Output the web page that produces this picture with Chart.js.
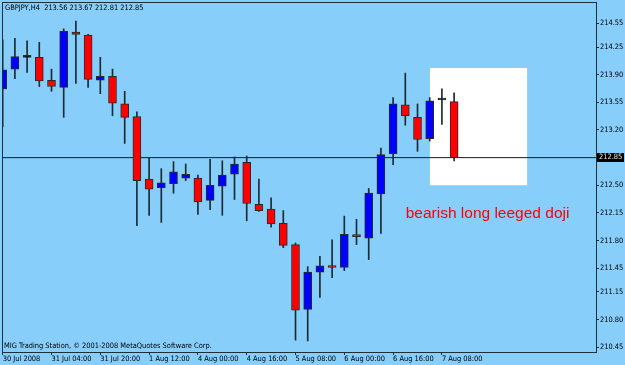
<!DOCTYPE html>
<html>
<head>
<meta charset="utf-8">
<script src="https://cdn.jsdelivr.net/npm/chart.js@4/dist/chart.umd.min.js"></script>
<style>
  html, body { margin: 0; padding: 0; background: #87cefa; }
  canvas { display: block; }
</style>
</head>
<body>
<canvas id="chart" width="625" height="365"></canvas>
<script>
// GBPJPY H4 candles (index = bar number)
const symbolTitle = "GBPJPY,H4  213.56 213.67 212.81 212.85";
const footerText = "MIG Trading Station, \u00a9 2001-2008 MetaQuotes Software Corp.";
const noteText = "bearish long leeged doji";

const opens  = [213.72, 213.97, 214.12, 214.12, 213.83, 213.74, 214.44, 214.40, 213.83, 213.88,
                213.53, 213.37, 212.58, 212.47, 212.52, 212.59, 212.59, 212.31, 212.49, 212.64,
                212.79, 212.26, 212.20, 212.02, 211.75, 210.93, 211.40, 211.47, 211.46, 211.86,
                211.83, 212.39, 212.90, 213.52, 213.36, 213.09, 213.58, 213.56];
const highs  = [214.34, 214.36, 214.33, 214.31, 213.97, 214.48, 214.58, 214.41, 214.12, 213.97,
                213.69, 213.43, 212.85, 212.71, 212.80, 212.77, 212.63, 212.83, 212.81, 212.86,
                212.87, 212.58, 212.34, 212.18, 211.77, 211.47, 211.60, 211.81, 212.11, 212.07,
                212.46, 212.97, 213.61, 213.92, 213.53, 213.61, 213.72, 213.67];
const lows   = [213.24, 213.85, 213.93, 213.75, 213.69, 213.36, 213.79, 213.74, 213.66, 213.38,
                213.03, 211.99, 212.12, 212.03, 212.40, 212.56, 212.13, 212.19, 212.12, 212.32,
                212.05, 212.17, 211.97, 211.71, 210.54, 210.53, 211.08, 211.33, 211.42, 211.75,
                211.56, 211.89, 212.76, 213.26, 212.93, 213.06, 213.27, 212.81];
const closes = [213.96, 214.13, 214.12, 213.82, 213.75, 214.45, 214.41, 213.84, 213.88, 213.54,
                213.36, 212.56, 212.45, 212.53, 212.67, 212.64, 212.29, 212.50, 212.63, 212.77,
                212.27, 212.18, 212.01, 211.74, 210.92, 211.40, 211.48, 211.46, 211.88, 211.85,
                212.40, 212.89, 213.53, 213.38, 213.08, 213.57, 213.58, 212.85];

const timeLabels = ["30 Jul 2008", "31 Jul 04:00", "31 Jul 20:00", "1 Aug 12:00", "4 Aug 00:00",
                    "4 Aug 16:00", "5 Aug 08:00", "6 Aug 00:00", "6 Aug 16:00", "7 Aug 08:00"];
const timeTickBars = [0, 4, 8, 12, 16, 20, 24, 28, 32, 36];
const priceTicks = [214.55, 214.25, 213.90, 213.55, 213.20, 212.85, 212.50, 212.15,
                    211.80, 211.45, 211.15, 210.80, 210.45];
const lastPrice = 212.85;

// highlighted box and the note next to it
const boxBars = [35, 43];
const boxPrices = [212.50, 213.985];
const noteAt = [33.03, 212.09];

const BG = "#87cefa";
const SMALL_FONT = { family: "'DejaVu Sans Condensed', 'Liberation Sans Narrow', sans-serif", size: 7.4 };
const bars = opens.map((_, i) => i);

const bodyColour = bars.map((i) =>
  closes[i] > opens[i] ? "#0000ff" : closes[i] < opens[i] ? "#ff0000" : "#000000");

// no label overhang padding, the frame sits right at the canvas edge
const noOverhang = (s) => { s.paddingTop = 0; s.paddingBottom = 0; s.paddingLeft = 0; s.paddingRight = 0; };

const mt4Plugin = {
  id: "mt4",
  beforeDraw(chart) {
    const c = chart.ctx;
    c.save();
    c.fillStyle = BG;
    c.fillRect(0, 0, chart.width, chart.height);
    c.restore();
  },
  afterDraw(chart) {
    const c = chart.ctx;
    const a = chart.chartArea;
    const x = chart.scales.x, y = chart.scales.y;
    const smallFont = `${SMALL_FONT.size}px ${SMALL_FONT.family}`;
    c.save();
    // frame
    c.strokeStyle = "#1f2f3a";
    c.lineWidth = 1;
    c.strokeRect(a.left + 0.5, a.top + 0.5, a.right - a.left, a.bottom - a.top);

    // header + footer
    c.fillStyle = "#000";
    c.font = smallFont;
    c.textBaseline = "middle";
    c.textAlign = "left";
    c.fillText(symbolTitle, 5, 8);
    c.fillText(footerText, 4, 346);

    // note
    c.fillStyle = "#ff0000";
    c.font = "15.5px 'Liberation Sans', Arial, sans-serif";
    c.textBaseline = "alphabetic";
    c.fillText(noteText, x.getPixelForValue(noteAt[0]), y.getPixelForValue(noteAt[1]));

    // last price tag on the axis
    const py = Math.round(y.getPixelForValue(lastPrice));
    c.fillStyle = "#000";
    c.fillRect(a.right + 1, py - 5, 27, 9);
    c.fillStyle = "#e8e8e8";
    c.font = smallFont;
    c.textBaseline = "middle";
    c.fillText(lastPrice.toFixed(2), a.right + 3, py - 0.5);
    c.restore();
  },
};

new Chart(document.getElementById("chart"), {
  type: "bar",
  data: {
    datasets: [
      {
        type: "line",
        data: [{ x: boxBars[0], y: boxPrices[1] }, { x: boxBars[1], y: boxPrices[1] }],
        fill: { value: boxPrices[0] },
        backgroundColor: "#ffffff",
        borderWidth: 0,
        pointRadius: 0,
        order: 5,
      },
      {
        type: "line",
        data: [{ x: -1, y: lastPrice }, { x: 50, y: lastPrice }],
        borderColor: "#1a1a1a",
        borderWidth: 1,
        pointRadius: 0,
        order: 4,
      },
      {
        data: bars.map((i) => ({ x: i, y: [lows[i], highs[i]] })),
        backgroundColor: "#1c2a33",
        barThickness: 1,
        grouped: false,
        order: 2,
      },
      {
        data: bars.map((i) => ({ x: i, y: [opens[i], closes[i]] })),
        backgroundColor: bodyColour,
        borderColor: "#2a2a2a",
        borderWidth: 1,
        borderSkipped: false,
        minBarLength: 2,
        barThickness: 8,
        grouped: false,
        order: 1,
      },
    ],
  },
  options: {
    responsive: false,
    animation: false,
    layout: { padding: { left: 2, top: 2, right: 0, bottom: 0 } },
    plugins: { legend: { display: false }, tooltip: { enabled: false } },
    scales: {
      x: {
        type: "linear",
        offset: false,
        min: -0.057,
        max: 48.63,
        grid: { offset: false, drawOnChartArea: false, drawTicks: true, tickLength: 3, color: "#1f2f3a" },
        border: { display: false },
        afterBuildTicks: (s) => { s.ticks = timeTickBars.map((v) => ({ value: v })); },
        afterFit: (s) => { s.height = 13; noOverhang(s); },
        ticks: {
          autoSkip: false,
          maxRotation: 0,
          align: "start",
          padding: 0,
          color: "#000",
          font: SMALL_FONT,
          callback: (v, i) => timeLabels[i],
        },
      },
      y: {
        position: "right",
        min: 210.39,
        max: 214.82,
        grid: { drawOnChartArea: false, drawTicks: true, tickLength: 3, color: "#1f2f3a" },
        border: { display: false },
        afterBuildTicks: (s) => { s.ticks = priceTicks.map((v) => ({ value: v })); },
        afterFit: (s) => { s.width = 29; noOverhang(s); },
        ticks: {
          padding: 1,
          color: "#000",
          font: SMALL_FONT,
          callback: (v) => v.toFixed(2),
        },
      },
    },
  },
  plugins: [mt4Plugin],
});
</script>
</body>
</html>
